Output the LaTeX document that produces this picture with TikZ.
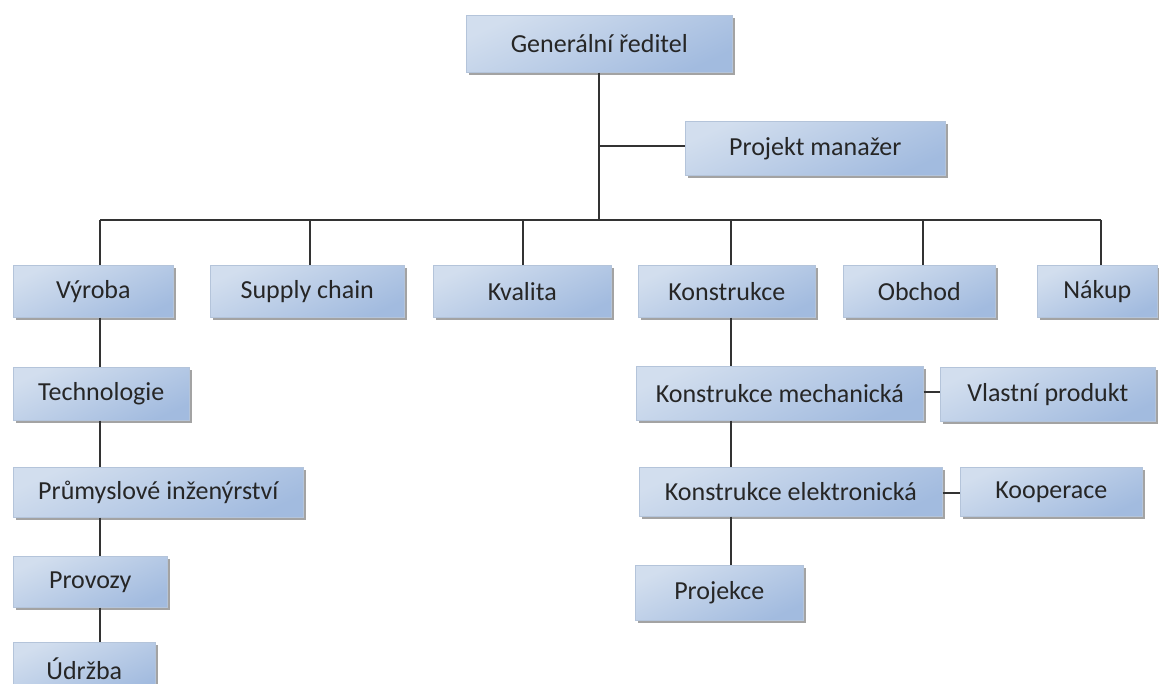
\documentclass[tikz,border=0pt]{standalone}
\usepackage{fontspec}
\setmainfont{Carlito}
\usetikzlibrary{shadows}
\definecolor{txt}{HTML}{262626}
\definecolor{lnc}{HTML}{333333}
\definecolor{gtop}{HTML}{D2DEEE}
\definecolor{gmid}{HTML}{E6EEF8}
\definecolor{gbot}{HTML}{A2BBDF}
\definecolor{bord}{HTML}{B4C4DA}
\tikzset{
  orgbox/.style={draw=bord, line width=0.6pt, top color=gtop, middle color=gmid, bottom color=gbot, shading angle=25,
    drop shadow={shadow xshift=2.5pt, shadow yshift=-3pt, fill=black!60, opacity=0.6},
    text=txt, font=\fontsize{26}{30}\selectfont, inner sep=0pt, anchor=north west},
  conn/.style={draw=lnc, line width=1.6pt}
}
\newcommand{\obox}[6]{% name, left, top, right, bottom, text
  \node[orgbox, minimum width={(#4-#2)*1pt}, minimum height={(#5-#3)*1pt}] (#1) at (#2,#3) {#6};}
\begin{document}
\begin{tikzpicture}[x=1pt,y=-1pt]
\clip (0,0) rectangle (1159,684);
\fill[white] (0,0) rectangle (1159,684);
% boxes
\obox{gr}{466}{15}{732}{72}{Generální ředitel}
\obox{pm}{685}{121}{945}{175}{Projekt manažer}
\obox{vyr}{13}{265}{173}{317}{Výroba}
\obox{sc}{210}{265}{404}{317}{Supply chain}
\obox{kv}{433}{265}{611}{317}{Kvalita}
\obox{ko}{638}{265}{815}{317}{Konstrukce}
\obox{ob}{843}{265}{995}{317}{Obchod}
\obox{na}{1037}{265}{1157}{317}{Nákup}
\obox{tech}{13}{367}{189}{420}{Technologie}
\obox{prum}{13}{467}{303}{517}{Průmyslové inženýrství}
\obox{prov}{13}{556}{167}{607}{Provozy}
\obox{udr}{13}{642}{155}{694}{Údržba}
\obox{km}{636}{366}{923}{420}{Konstrukce mechanická}
\obox{vp}{940}{367}{1155}{421}{Vlastní produkt}
\obox{ke}{639}{467}{942}{516}{Konstrukce elektronická}
\obox{koop}{960}{467}{1142}{516}{Kooperace}
\obox{proj}{635}{565}{803}{620}{Projekce}
% junction coordinates
\coordinate (j0) at (599,220);
\coordinate (jpm) at (599,146);
\coordinate (b1) at (100,220);
\coordinate (b2) at (310,220);
\coordinate (b3) at (523,220);
\coordinate (b4) at (731,220);
\coordinate (b5) at (923,220);
\coordinate (b6) at (1101,220);
\coordinate (vx) at (100,0);
\coordinate (kx) at (731,0);
% connectors
\draw[conn] (gr.south -| j0) -- (j0);
\draw[conn] (jpm) -- (pm.west |- jpm);
\draw[conn] (b1) -- (b6);
\draw[conn] (b1) -- (vyr.north -| b1);
\draw[conn] (b2) -- (sc.north -| b2);
\draw[conn] (b3) -- (kv.north -| b3);
\draw[conn] (b4) -- (ko.north -| b4);
\draw[conn] (b5) -- (ob.north -| b5);
\draw[conn] (b6) -- (na.north -| b6);
\draw[conn] (vyr.south -| vx) -- (tech.north -| vx);
\draw[conn] (tech.south -| vx) -- (prum.north -| vx);
\draw[conn] (prum.south -| vx) -- (prov.north -| vx);
\draw[conn] (prov.south -| vx) -- (udr.north -| vx);
\draw[conn] (ko.south -| kx) -- (km.north -| kx);
\draw[conn] (km.south -| kx) -- (ke.north -| kx);
\draw[conn] (ke.south -| kx) -- (proj.north -| kx);
\draw[conn] (km.east |- 0,392) -- (vp.west |- 0,392);
\draw[conn] (ke.east |- 0,493) -- (koop.west |- 0,493);
\end{tikzpicture}
\end{document}
